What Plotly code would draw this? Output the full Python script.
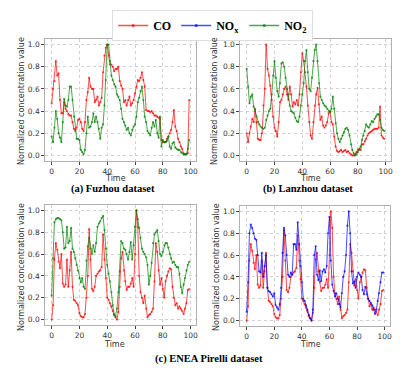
import plotly.graph_objects as go

# time index (0..99)
time_idx = list(range(100))

# (a) Fuzhou
fuzhou_co = [0.47, 0.6, 0.67, 0.85, 0.72, 0.74, 0.5, 0.38, 0.38, 0.48,
             0.42, 0.4, 0.37, 0.36, 0.36, 0.3, 0.24, 0.23, 0.25, 0.32,
             0.33, 0.3, 0.24, 0.22, 0.3, 0.5, 0.57, 0.7, 0.62, 0.6,
             0.6, 0.48, 0.5, 0.53, 0.45, 0.48, 0.52, 0.75, 0.9, 0.97,
             1.0, 0.9, 0.82, 0.82, 0.8, 0.76, 0.78, 0.78, 0.8, 0.67,
             0.63, 0.6, 0.48, 0.5, 0.45, 0.5, 0.53, 0.45, 0.47, 0.5,
             0.56, 0.62, 0.68, 0.67, 0.7, 0.75, 0.68, 0.62, 0.41, 0.4,
             0.4, 0.39, 0.4, 0.38, 0.36, 0.36, 0.35, 0.34, 0.33, 0.14,
             0.12, 0.12, 0.12, 0.15, 0.17, 0.2, 0.23, 0.3, 0.41, 0.26,
             0.22, 0.15, 0.12, 0.08, 0.06, 0.02, 0.01, 0.01, 0.02, 0.5]
fuzhou_no2 = [0.17, 0.12, 0.25, 0.4, 0.33, 0.2, 0.16, 0.12, 0.3, 0.51,
              0.45, 0.44, 0.5, 0.62, 0.62, 0.5, 0.35, 0.22, 0.15, 0.15,
              0.14, 0.05, 0.03, 0.01, 0.05, 0.2, 0.35, 0.25, 0.26, 0.3,
              0.38, 0.3, 0.35, 0.3, 0.24, 0.15, 0.25, 0.28, 0.45, 0.68,
              1.0, 1.0, 0.85, 0.72, 0.68, 0.64, 0.62, 0.55, 0.53, 0.5,
              0.42, 0.33, 0.3, 0.27, 0.23, 0.25, 0.2, 0.18, 0.23, 0.26,
              0.28, 0.35, 0.48, 0.52, 0.58, 0.62, 0.5, 0.35, 0.3, 0.22,
              0.2, 0.18, 0.25, 0.3, 0.26, 0.32, 0.2, 0.16, 0.35, 0.08,
              0.14, 0.12, 0.12, 0.13, 0.17, 0.08, 0.06, 0.11, 0.12, 0.07,
              0.06, 0.05, 0.05, 0.03, 0.02, 0.01, 0.01, 0.01, 0.06, 0.14]

# (b) Lanzhou
lanzhou_co = [0.2, 0.12, 0.2, 0.26, 0.33, 0.3, 0.42, 0.3, 0.15, 0.14,
              0.14, 0.2, 0.45, 0.6, 1.0, 0.78, 0.72, 0.63, 0.5, 0.35,
              0.25, 0.22, 0.17, 0.3, 0.48, 0.5, 0.55, 0.6, 0.62, 0.55,
              0.5, 0.62, 0.55, 0.44, 0.48, 0.46, 0.5, 0.45, 0.55, 0.75,
              0.92, 0.85, 0.75, 0.62, 0.45, 0.3, 0.18, 0.15, 0.3, 0.45,
              0.55, 0.61, 0.46, 0.32, 0.35, 0.27, 0.25, 0.27, 0.3, 0.38,
              0.4, 0.3, 0.28, 0.17, 0.08, 0.04, 0.03, 0.04, 0.05, 0.03,
              0.04, 0.05, 0.03, 0.04, 0.02, 0.01, 0.0, 0.0, 0.01, 0.03,
              0.05, 0.06, 0.05, 0.1, 0.1, 0.13, 0.15, 0.18, 0.2, 0.21,
              0.22, 0.23, 0.24, 0.24, 0.24, 0.25, 0.44, 0.18, 0.16, 0.15]
lanzhou_no2 = [0.78, 0.62, 0.47, 0.53, 0.55, 0.44, 0.4, 0.35, 0.3, 0.28,
               0.26, 0.25, 0.24, 0.25, 0.32, 0.36, 0.4, 0.42, 0.55, 0.72,
               0.85, 0.7, 0.58, 0.53, 0.65, 0.83, 0.84, 0.8, 0.7, 0.6,
               0.55, 0.45, 0.4, 0.39, 0.38, 0.34, 0.31, 0.3, 0.35, 0.45,
               0.55, 0.65, 0.85, 0.95, 0.75, 0.6, 0.58, 0.7, 0.85, 0.95,
               1.0, 0.85, 0.65, 0.53, 0.5, 0.47, 0.45, 0.44, 0.42, 0.4,
               0.39, 0.42, 0.53, 0.42, 0.29, 0.2, 0.15, 0.12, 0.15, 0.18,
               0.21, 0.24, 0.25, 0.23, 0.18, 0.1, 0.05, 0.02, 0.0, 0.01,
               0.03, 0.05, 0.08, 0.14, 0.18, 0.22, 0.28, 0.26, 0.25, 0.28,
               0.31, 0.3, 0.33, 0.35, 0.37, 0.37, 0.32, 0.25, 0.23, 0.22]

# (c)/(d) ENEA Pirelli
pirelli_co = [0.0, 0.13, 0.55, 0.7, 0.64, 0.53, 0.47, 0.6, 0.33, 0.3,
              0.32, 0.55, 0.3, 0.45, 0.62, 0.3, 0.18, 0.17, 0.15, 0.13,
              0.06, 0.03, 0.02, 0.02, 0.05, 0.2, 0.4, 0.83, 0.55, 0.28,
              0.26, 0.3, 0.4, 0.42, 0.44, 0.45, 0.48, 0.78, 0.55, 0.38,
              0.2, 0.18, 0.15, 0.12, 0.08, 0.04, 0.02, 0.0, 0.07, 0.3,
              0.56, 0.62, 0.45, 0.35, 0.27, 0.3, 0.3, 0.33, 0.38, 0.3,
              0.6, 1.0, 0.85, 0.4, 0.25, 0.2, 0.15, 0.22, 0.1, 0.02,
              0.04, 0.05, 0.07, 0.1, 0.35, 0.7, 0.62, 0.45, 0.32, 0.38,
              0.28, 0.2, 0.35, 0.4, 0.44, 0.47, 0.46, 0.3, 0.2, 0.13,
              0.15, 0.1, 0.12, 0.1, 0.08, 0.05, 0.1, 0.15, 0.27, 0.28]
pirelli_no2 = [0.22, 0.56, 0.89, 0.92, 0.93, 0.93, 0.92, 0.91, 0.8, 0.65,
               0.66, 0.85, 0.7, 0.72, 0.84, 0.65, 0.62, 0.56, 0.5, 0.45,
               0.38, 0.34, 0.38, 0.3, 0.28, 0.54, 0.67, 0.75, 0.65, 0.6,
               0.68, 0.62, 0.7, 0.85, 0.88, 0.9, 0.93, 0.95, 0.82, 0.65,
               0.5, 0.42, 0.35, 0.25, 0.13, 0.05, 0.03, 0.1, 0.25, 0.44,
               0.72, 0.7, 0.65, 0.64, 0.6, 0.55, 0.62, 0.71, 0.55, 0.68,
               0.85, 1.0, 0.92, 0.84, 0.75, 0.65, 0.62, 0.6, 0.57, 0.5,
               0.32, 0.4, 0.52, 0.7, 0.78, 0.8, 0.82, 0.72, 0.6, 0.58,
               0.62, 0.68, 0.7, 0.7, 0.66, 0.6, 0.56, 0.52, 0.53, 0.5,
               0.48, 0.48, 0.42, 0.3, 0.24, 0.32, 0.38, 0.45, 0.5, 0.53]
pirelli_nox = [0.08, 0.35, 0.8, 0.88, 0.85, 0.8, 0.75, 0.74, 0.6, 0.45,
               0.44, 0.62, 0.4, 0.5, 0.6, 0.3, 0.27, 0.26, 0.24, 0.22,
               0.25, 0.14, 0.12, 0.1, 0.15, 0.3, 0.62, 0.85, 0.78, 0.6,
               0.42, 0.4, 0.44, 0.42, 0.7, 0.7, 0.65, 0.9, 0.7, 0.5,
               0.35, 0.2, 0.18, 0.14, 0.1, 0.05, 0.02, 0.0, 0.1, 0.6,
               0.68, 0.42, 0.37, 0.46, 0.36, 0.45, 0.47, 0.44, 0.5, 0.8,
               0.95, 0.55, 0.33, 0.27, 0.22, 0.25, 0.2, 0.15, 0.12, 0.25,
               0.4, 0.45, 0.6, 0.87, 1.0, 0.8, 0.45, 0.34, 0.36, 0.3,
               0.4, 0.44, 0.42, 0.4, 0.28, 0.24, 0.31, 0.24, 0.2, 0.18,
               0.16, 0.14, 0.1, 0.06, 0.1, 0.18, 0.25, 0.35, 0.44, 0.44]

panel_titles = ["(a) Fuzhou dataset", "(b) Lanzhou dataset", "(c) ENEA Pirelli dataset"]
x_ticks = [0, 20, 40, 60, 80, 100]
y_ticks = [0.0, 0.2, 0.4, 0.6, 0.8, 1.0]

RED = "rgba(255,0,0,0.7)"
BLUE = "rgba(0,0,255,0.7)"
GREEN = "rgba(0,128,0,0.7)"

W, H = 415, 375


def px_x(p):
    return p / W


def px_y(p):
    return 1 - p / H


# axes boxes in pixels (left, right, top, bottom)
boxes = [(45, 197, 39, 161), (241, 393, 39, 161),
         (45, 197, 205, 325), (241, 392, 206, 326)]
# "Time" label centres and y-label centres, pixels
time_pos = [(116, 178), (312, 178), (115, 344), (312, 344)]
ylab_pos = [(22, 101), (216, 101), (21, 267), (217, 267)]

panels = [
    [(fuzhou_co, RED, "CO"), (fuzhou_no2, GREEN, "NO<sub>2</sub>")],
    [(lanzhou_co, RED, "CO"), (lanzhou_no2, GREEN, "NO<sub>2</sub>")],
    [(pirelli_co, RED, "CO"), (pirelli_no2, GREEN, "NO<sub>2</sub>")],
    [(pirelli_co, RED, "CO"), (pirelli_nox, BLUE, "NO<sub>x</sub>")],
]

fig = go.Figure()

for i, series in enumerate(panels):
    sfx = "" if i == 0 else str(i + 1)
    for vals, col, name in series:
        fig.add_trace(go.Scatter(
            x=time_idx, y=vals, mode="lines+markers", name=name,
            line=dict(color=col, width=1), marker=dict(color=col, size=2.2),
            xaxis="x" + sfx, yaxis="y" + sfx, showlegend=False))

# legend-only entries (CO, NOx, NO2 order)
for col, name in [(RED, "CO"), (BLUE, "NO<sub>x</sub>"), (GREEN, "NO<sub>2</sub>")]:
    fig.add_trace(go.Scatter(x=[None], y=[None], mode="lines+markers", name=name,
                             line=dict(color=col, width=1.5), marker=dict(color=col, size=3)))

tick_font = dict(family="DejaVu Sans", size=7.5, color="#333333")
label_font = dict(family="DejaVu Sans", size=8, color="#333333")

layout = dict(
    width=W, height=H, margin=dict(l=0, r=0, t=0, b=0),
    paper_bgcolor="white", plot_bgcolor="white",
    showlegend=True,
    legend=dict(orientation="h", x=0.515, xanchor="center", y=px_y(10), yanchor="top",
                font=dict(family="Liberation Serif", size=12, color="black", weight="bold"),
                bordercolor="#dddddd", borderwidth=1, itemwidth=30,
                tracegroupgap=0, bgcolor="white"),
)

for i, (l, r, t, b) in enumerate(boxes):
    sfx = "" if i == 0 else str(i + 1)
    layout["xaxis" + sfx] = dict(
        domain=[px_x(l), px_x(r)], anchor="y" + sfx, range=[-4.95, 103.95],
        tickvals=x_ticks, ticks="outside", ticklen=2.5, tickcolor="#444",
        showgrid=True, gridcolor="#d0d0d0", griddash="dot", gridwidth=0.8,
        showline=True, linecolor="#b0b0b0", linewidth=1, mirror=True, zeroline=False,
        tickfont=tick_font)
    layout["yaxis" + sfx] = dict(
        domain=[px_y(b), px_y(t)], anchor="x" + sfx, range=[-0.05, 1.05],
        tickvals=y_ticks, tickformat=".1f", ticks="outside", ticklen=2.5,
        tickcolor="#444", showgrid=True, gridcolor="#d0d0d0", griddash="dot", gridwidth=0.8,
        showline=True, linecolor="#b0b0b0", linewidth=1, mirror=True, zeroline=False,
        tickfont=tick_font)

fig.update_layout(**layout)

for (tx, ty), (lx, ly) in zip(time_pos, ylab_pos):
    fig.add_annotation(text="Time", x=px_x(tx), y=px_y(ty), xref="paper", yref="paper",
                       showarrow=False, font=label_font, xanchor="center", yanchor="middle")
    fig.add_annotation(text="Normalized concentration value", x=px_x(lx), y=px_y(ly),
                       xref="paper", yref="paper", textangle=-90, showarrow=False,
                       font=label_font, xanchor="center", yanchor="middle")

title_font = dict(family="Liberation Serif", size=10.5, color="black", weight="bold")
title_pos = [(114, 189), (309, 189), (210, 359)]
for txt, (cx, cy) in zip(panel_titles, title_pos):
    fig.add_annotation(text=txt, x=px_x(cx), y=px_y(cy), xref="paper", yref="paper",
                       showarrow=False, font=title_font, xanchor="center", yanchor="middle")

# drop the default page margin so the figure sits at the top-left corner
fig.write_html("out.html", config={"displayModeBar": False},
               post_script="document.body.style.margin='0';")
